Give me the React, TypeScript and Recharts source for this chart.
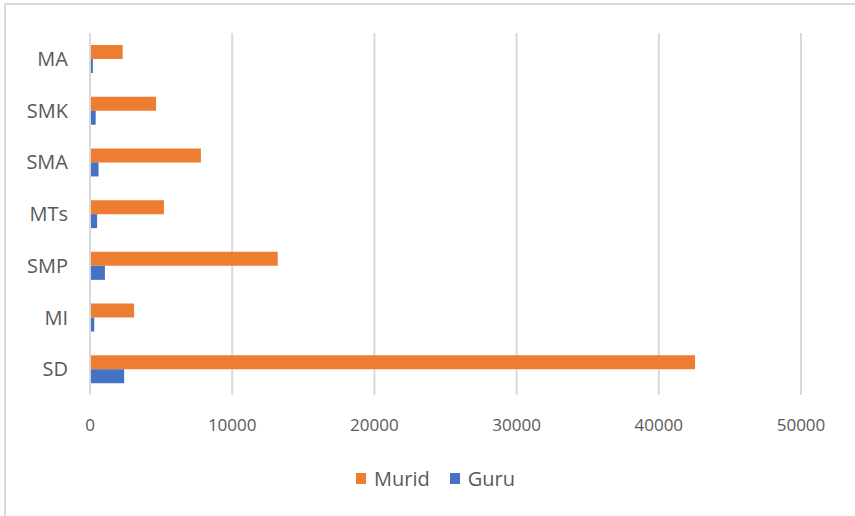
import { Bar, BarChart, CartesianGrid, Legend, XAxis, YAxis } from "recharts";

const LEVELS = ["MA", "SMK", "SMA", "MTs", "SMP", "MI", "SD"];
const MURID = [2300, 4650, 7800, 5200, 13200, 3100, 42550];
const GURU = [200, 400, 600, 500, 1050, 300, 2400];
const X_TICKS = [0, 10000, 20000, 30000, 40000, 50000];

const ORANGE = "#ED7D31";
const BLUE = "#4472C4";
const TEXT = "#595959";
const GRID = "#d9d9d9";
const FONT = "'Open Sans', 'Noto Sans', sans-serif";

const chartData = LEVELS.map((level, i) => ({
  level,
  murid: MURID[i],
  guru: GURU[i],
}));

function LegendContent() {
  const items = [
    { label: "Murid", color: ORANGE },
    { label: "Guru", color: BLUE },
  ];
  return (
    <div
      style={{
        height: 30,
        display: "flex",
        justifyContent: "center",
        alignItems: "center",
        gap: 20,
        paddingLeft: 70,
        fontFamily: FONT,
        fontSize: 20,
        color: TEXT,
      }}
    >
      {items.map((it) => (
        <span key={it.label} style={{ display: "flex", alignItems: "center" }}>
          <span
            style={{
              width: 10,
              height: 11,
              background: it.color,
              display: "inline-block",
              marginRight: 8,
            }}
          />
          {it.label}
        </span>
      ))}
    </div>
  );
}

export default function App() {
  return (
    <div
      style={{
        position: "absolute",
        left: 0,
        top: 0,
        width: 855,
        height: 516,
        background: "#fff",
        overflow: "hidden",
      }}
    >
      <div
        style={{
          position: "absolute",
          left: 4,
          top: 3,
          width: 860,
          height: 530,
          borderLeft: `2px solid ${GRID}`,
          borderTop: `2px solid ${GRID}`,
          boxSizing: "border-box",
        }}
      />
      <BarChart
        width={855}
        height={516}
        data={chartData}
        layout="vertical"
        margin={{ top: 33, right: 54, left: 0, bottom: 23 }}
        barSize={14}
        barGap={0}
        style={{ position: "absolute", left: 0, top: 0 }}
      >
        <CartesianGrid horizontal={false} stroke={GRID} strokeWidth={2} />
        <XAxis
          type="number"
          domain={[0, 50000]}
          ticks={X_TICKS}
          height={68}
          axisLine={false}
          tickLine={false}
          tickMargin={18}
          tick={{ fontSize: 17, fill: TEXT, fontFamily: FONT }}
        />
        <YAxis
          type="category"
          dataKey="level"
          width={90}
          axisLine={{ stroke: GRID, strokeWidth: 2 }}
          tickLine={false}
          tickMargin={16}
          tick={{ fontSize: 20, fill: TEXT, fontFamily: FONT }}
        />
        <Legend verticalAlign="bottom" content={<LegendContent />} />
        <Bar dataKey="murid" name="Murid" fill={ORANGE} isAnimationActive={false} />
        <Bar dataKey="guru" name="Guru" fill={BLUE} isAnimationActive={false} />
      </BarChart>
    </div>
  );
}
